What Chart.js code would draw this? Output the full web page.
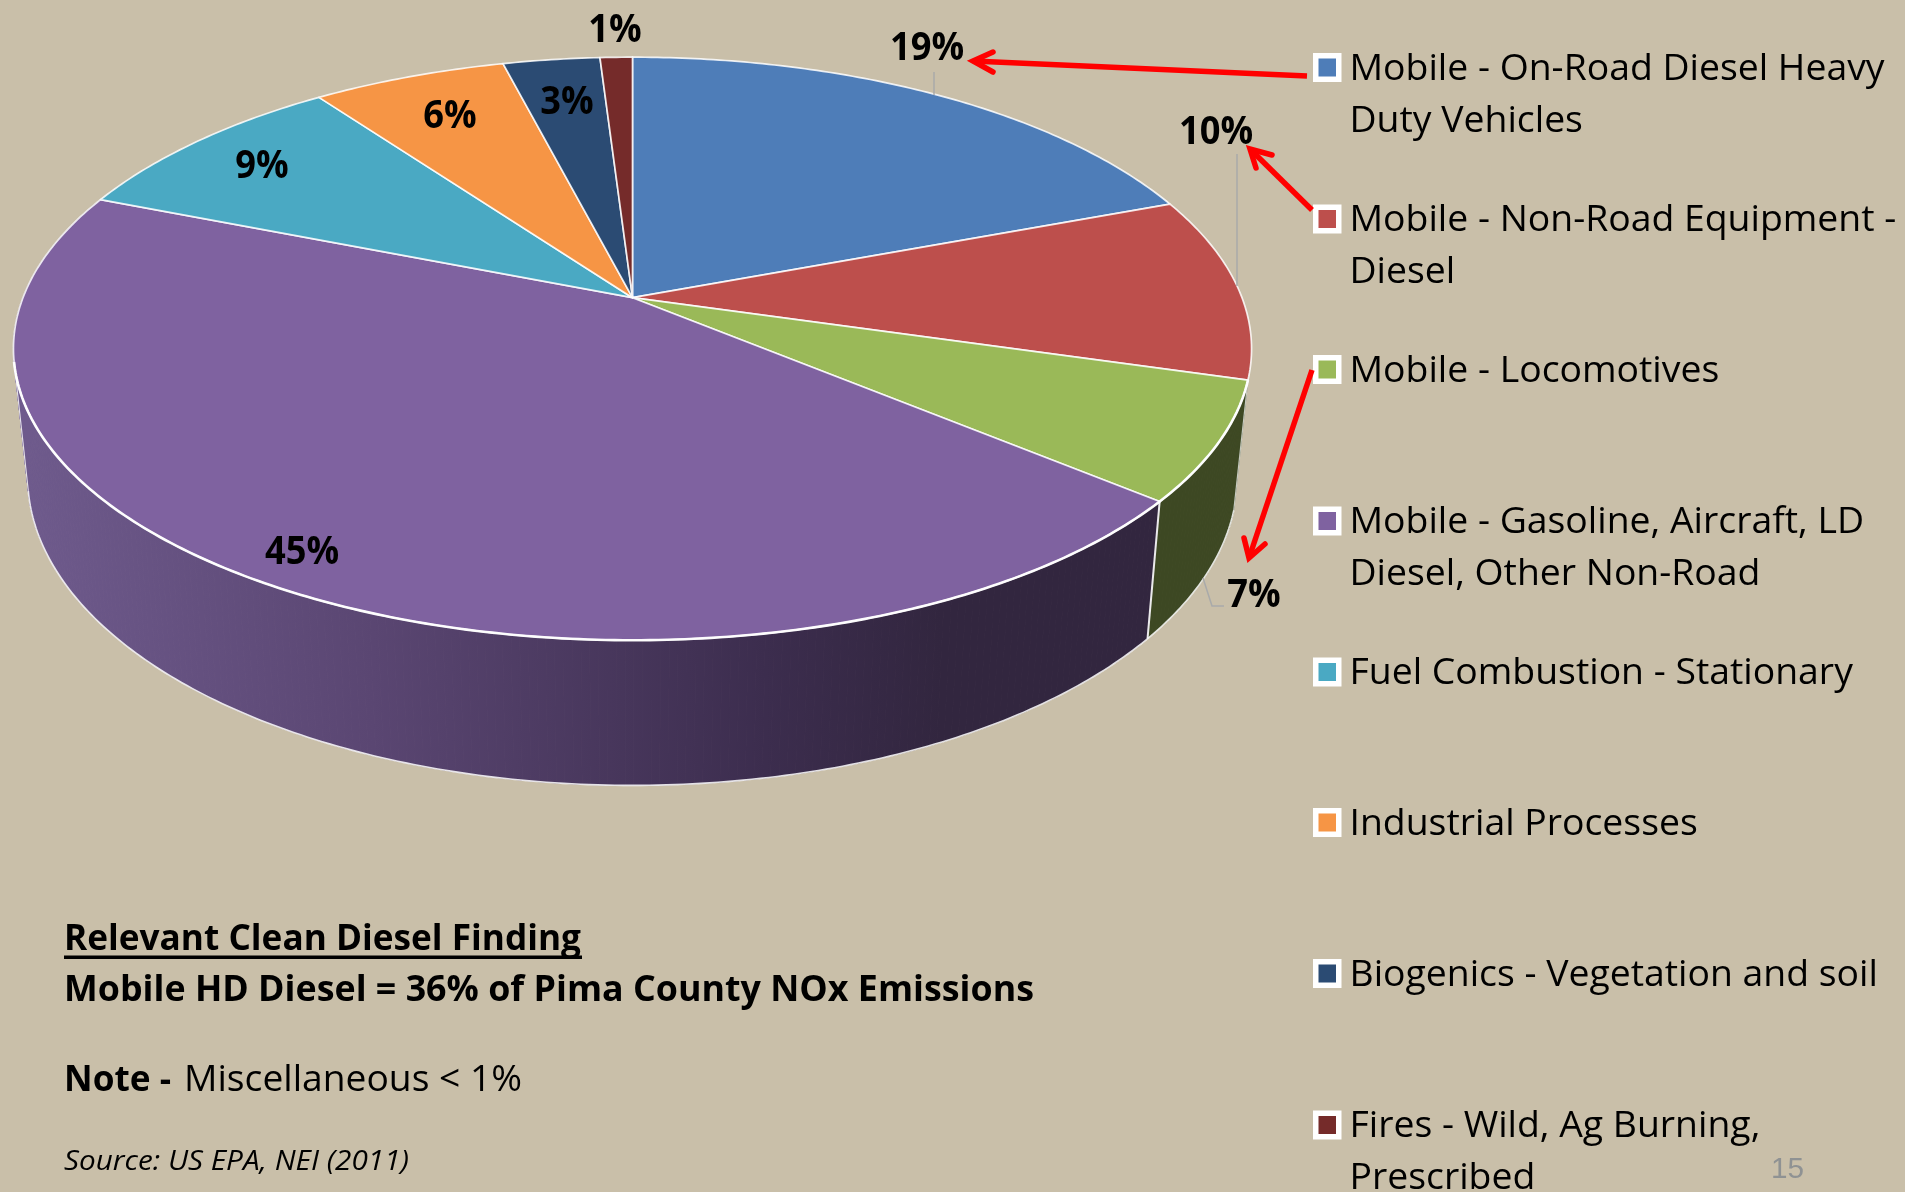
<!DOCTYPE html>
<html>
<head>
<meta charset="utf-8">
<script src="https://cdn.jsdelivr.net/npm/chart.js@4"></script>
<style>
html,body{margin:0;padding:0;background:#c9bfa9;overflow:hidden}
canvas{display:block}
</style>
</head>
<body>
<canvas id="c" width="1905" height="1192"></canvas>
<script>
const categories = [
  ["Mobile - On-Road Diesel Heavy", "Duty Vehicles"],
  ["Mobile - Non-Road Equipment -", "Diesel"],
  ["Mobile - Locomotives"],
  ["Mobile - Gasoline, Aircraft, LD", "Diesel, Other Non-Road"],
  ["Fuel Combustion - Stationary"],
  ["Industrial Processes"],
  ["Biogenics - Vegetation and soil"],
  ["Fires - Wild, Ag Burning,", "Prescribed"]
];
const shares = [19.3, 10.2, 6.6, 45, 9, 6, 3, 1];
const sliceColors = ["#4e7db8", "#bd4f4c", "#9ab958", "#7f62a0", "#4aa9c3", "#f69545", "#2b4b73", "#752b2a"];

const percentCenters = [[927,46],[1216,130],[1254,593],[302,550],[262,164],[450,114],[567,100],[615,28]];
const legendCenters = [67.5,219,369.5,521,672,822.5,973.5,1125];

const FONT = '"Open Sans"';
const CX = 632.5, APEX_Y = 297.7, A = 609.5, B = 282.6, K = -0.175;
const WALL_SX = 0.977, WALL_SY = 1.058, WALL_T = 108;

function rimPoint(t){
  const x = Math.cos(t), y = Math.sin(t), w = 1 + K*y;
  return [CX + A*x/w, APEX_Y + B*y/w];
}
function basePoint(t){
  const p = rimPoint(t);
  return [CX + WALL_SX*(p[0]-CX), WALL_SY*p[1] + WALL_T];
}
function samples(s, e){
  const n = Math.max(2, Math.ceil((e-s)/0.012)), out = [];
  for(let i=0;i<=n;i++) out.push(s + (e-s)*i/n);
  return out;
}
function fit(ctx, text, x, y, width, font, color){
  ctx.save();
  ctx.font = font;
  ctx.fillStyle = color;
  ctx.textAlign = 'left';
  ctx.textBaseline = 'alphabetic';
  const w = ctx.measureText(text).width;
  ctx.translate(x, y);
  ctx.scale(width/w, 1);
  ctx.fillText(text, 0, 0);
  ctx.restore();
}
function fitCenter(ctx, text, cx, cy, scale, font, color){
  ctx.save();
  ctx.font = font;
  ctx.fillStyle = color;
  ctx.textAlign = 'center';
  ctx.textBaseline = 'alphabetic';
  ctx.translate(cx, cy + 14);
  ctx.scale(scale, 1);
  ctx.fillText(text, 0, 0);
  ctx.restore();
}
function poly(ctx, pts){
  ctx.beginPath();
  pts.forEach((p,i)=> i ? ctx.lineTo(p[0],p[1]) : ctx.moveTo(p[0],p[1]));
}
function line(ctx, pts, color, width){
  ctx.save();
  ctx.strokeStyle = color; ctx.lineWidth = width; ctx.lineCap = 'butt'; ctx.lineJoin='miter';
  poly(ctx, pts); ctx.stroke();
  ctx.restore();
}
function arrow(ctx, from, tip, h1, h2){
  line(ctx, [from, tip], '#ff0000', 5.5);
  ctx.save();
  ctx.strokeStyle='#ff0000'; ctx.lineWidth=5.5; ctx.lineCap='round'; ctx.lineJoin='miter';
  poly(ctx,[h1,tip,h2]); ctx.stroke();
  ctx.restore();
}

const perspectivePie = {
  id: 'perspectivePie',
  beforeDatasetsDraw(chart){
    const ctx = chart.ctx;
    const arcs = chart.getDatasetMeta(0).data;
    ctx.save();

    const grad = ctx.createLinearGradient(30, 0, 1010, 0);
    grad.addColorStop(0, '#6e5a8c');
    grad.addColorStop(0.35, '#5a4672');
    grad.addColorStop(0.75, '#3c2d4e');
    grad.addColorStop(0.93, '#32263f');
    grad.addColorStop(1, '#32263f');
    arcs.forEach((arc,i)=>{
      const mid = (arc.startAngle + arc.endAngle)/2;
      if (Math.sin(mid) <= 0) return;
      const ts = samples(arc.startAngle, arc.endAngle);
      const fill = i === 2 ? '#3d4823' : grad;
      ctx.fillStyle = fill; ctx.strokeStyle = fill; ctx.lineWidth = 1;
      for(let j=0;j<ts.length-1;j++){
        poly(ctx,[rimPoint(ts[j]),rimPoint(ts[j+1]),basePoint(ts[j+1]),basePoint(ts[j])]);
        ctx.closePath(); ctx.fill(); ctx.stroke();
      }
    });
    const frontStart = arcs[2].startAngle;
    const tangent = Math.PI*0.93;
    line(ctx, samples(frontStart, tangent).map(basePoint), 'rgba(255,255,255,0.85)', 1.6);
    line(ctx, [rimPoint(tangent), basePoint(tangent)], 'rgba(255,255,255,0.8)', 1.2);
    line(ctx, [rimPoint(frontStart), basePoint(frontStart)], 'rgba(255,255,255,0.7)', 1.2);
    line(ctx, [rimPoint(arcs[3].startAngle), basePoint(arcs[3].startAngle)], 'rgba(255,255,255,0.9)', 2);

    ctx.lineJoin = 'round';
    arcs.forEach((arc,i)=>{
      const pts = samples(arc.startAngle, arc.endAngle).map(rimPoint);
      pts.unshift([CX, APEX_Y]);
      poly(ctx, pts); ctx.closePath();
      ctx.fillStyle = sliceColors[i];
      ctx.fill();
      ctx.strokeStyle = 'rgba(255,255,255,0.85)';
      ctx.lineWidth = 1.7;
      ctx.stroke();
    });
    line(ctx, samples(arcs[2].startAngle, Math.PI*0.93).map(rimPoint), 'rgba(255,255,255,0.95)', 2.6);
    ctx.restore();
    return false;
  },
  afterDraw(chart){
    const ctx = chart.ctx;
    const grey = '#a9aaaa';
    line(ctx, [[934,72],[934,95]], grey, 1.5);
    line(ctx, [[1237,154],[1237,286]], grey, 1.5);
    line(ctx, [[1203,578],[1212,606],[1224,606]], grey, 1.5);

    shares.forEach((v,i)=>{
      const c = percentCenters[i];
      fitCenter(ctx, Math.round(v) + '%', c[0], c[1], 0.93, 'bold 39px ' + FONT, '#000');
    });

    categories.forEach((lines,i)=>{
      const cy = legendCenters[i];
      ctx.fillStyle = '#fff';
      ctx.fillRect(1313, cy-14.5, 28.5, 29);
      ctx.fillStyle = sliceColors[i];
      ctx.fillRect(1318.5, cy-9, 17.5, 18);
      ctx.font = '37px ' + FONT;
      const k = 535 / ctx.measureText(categories[0][0]).width;
      lines.forEach((t,j)=>{
        ctx.font = '37px ' + FONT;
        fit(ctx, t, 1349.5, cy + 12 + j*52, ctx.measureText(t).width*k, '37px ' + FONT, '#000');
      });
    });

    arrow(ctx, [1307,76], [973,61], [993,52], [993,72]);
    arrow(ctx, [1312,210], [1250,149], [1272,155], [1256,168]);
    arrow(ctx, [1312,370], [1249,558], [1244,538], [1265,544]);

    fit(ctx, 'Relevant Clean Diesel Finding', 64, 950, 517, 'bold 36px ' + FONT, '#000');
    ctx.fillStyle = '#000';
    ctx.fillRect(64, 955.5, 518, 3.5);
    fit(ctx, 'Mobile HD Diesel = 36% of Pima County NOx Emissions', 64, 1001, 970, 'bold 36px ' + FONT, '#000');
    fit(ctx, 'Note -', 64, 1091, 107, 'bold 36px ' + FONT, '#000');
    fit(ctx, 'Miscellaneous < 1%', 184, 1091, 338, '36px ' + FONT, '#000');
    fit(ctx, 'Source: US EPA, NEI (2011)', 64, 1170, 345, 'italic 28px ' + FONT, '#000');
    fit(ctx, '15', 1771, 1178, 33, '30px "Liberation Sans"', '#8f9293');
  }
};

new Chart(document.getElementById('c'), {
  type: 'pie',
  data: {
    labels: categories.map(l => l.join(' ')),
    datasets: [{ data: shares, backgroundColor: sliceColors }]
  },
  options: {
    responsive: false,
    animation: false,
    plugins: { legend: { display: false }, tooltip: { enabled: false } }
  },
  plugins: [perspectivePie]
});
</script>
</body>
</html>
